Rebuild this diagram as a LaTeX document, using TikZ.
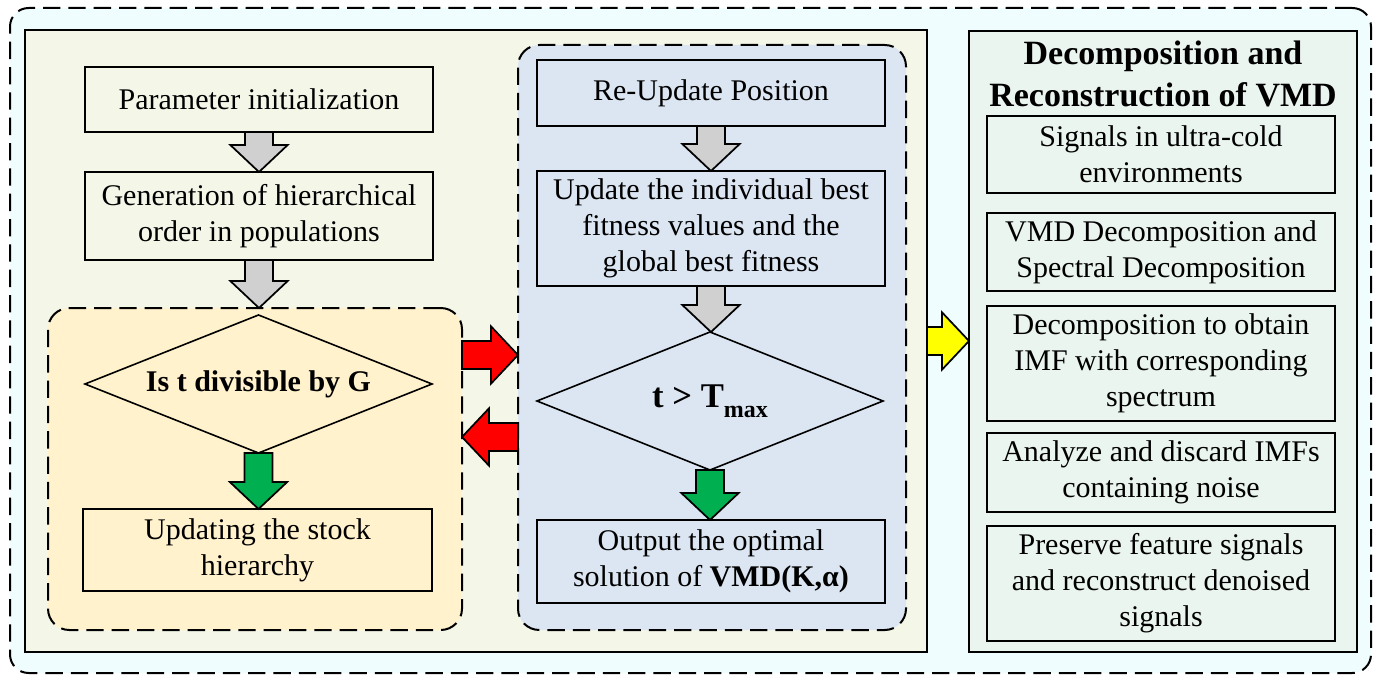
\documentclass[tikz,border=0pt]{standalone}
\usepackage{fontspec}
\setmainfont{Liberation Serif}
\usetikzlibrary{shapes.geometric,calc}
\definecolor{outerfill}{HTML}{EFFDFE}
\definecolor{leftfill}{HTML}{F4F7E8}
\definecolor{rightfill}{HTML}{EBF5EF}
\definecolor{orangefill}{HTML}{FFF2CC}
\definecolor{bluefill}{HTML}{DCE6F2}
\definecolor{arrgray}{HTML}{D0D0D0}
\definecolor{arrgreen}{HTML}{00B050}
\definecolor{arrred}{HTML}{FF0000}
\definecolor{arryellow}{HTML}{FFFF00}
\newcommand\blkS{10.5pt}
\newcommand\blkH{21.5pt}
\newcommand\blkL{20.25pt}
\newcommand\vblk[3]{%
  \draw[blk,fill=#3] let \p1=#1, \p2=#2 in
  (\x1-\blkS,\y1) -- (\x1+\blkS,\y1) -- (\x1+\blkS,\y2+\blkL) -- (\x1+\blkH,\y2+\blkL)
  -- (\x1,\y2) -- (\x1-\blkH,\y2+\blkL) -- (\x1-\blkS,\y2+\blkL) -- cycle;}
\newcommand\hblk[3]{%
  \draw[blk,fill=#3] let \p1=#1, \p2=#2, \n1={ifthenelse(\x2>\x1,1,-1)} in
  (\x1,\y1-\blkS) -- ({\x2-\n1*\blkL},{\y1-\blkS}) -- ({\x2-\n1*\blkL},{\y1-\blkH})
  -- (\x2,\y1) -- ({\x2-\n1*\blkL},{\y1+\blkH}) -- ({\x2-\n1*\blkL},{\y1+\blkS})
  -- (\x1,\y1+\blkS) -- cycle;}
\begin{document}
\begin{tikzpicture}[x=0.75pt,y=-0.75pt,
  wh/.style 2 args={minimum width=#1*0.75pt, minimum height=#2*0.75pt},
  box/.style={draw, line width=1.5pt, inner sep=0pt, outer sep=0pt, align=center,
    font=\fontsize{22.5pt}{27pt}\selectfont},
  dec/.style={draw, diamond, line width=1.2pt, inner sep=0pt, outer sep=0pt, aspect=2.5,
    font=\fontsize{22.5pt}{27pt}\selectfont\bfseries},
  panel/.style={draw, line width=2pt, inner sep=0pt, outer sep=0pt},
  grp/.style={draw, dashed, dash pattern=on 13pt off 6pt, line width=1.5pt,
    rounded corners=16pt, inner sep=0pt, outer sep=0pt},
  blk/.style={draw, line width=1.3pt, line join=miter}]
\useasboundingbox (0,0) rectangle (1377,684);
% outer frame
\node[grp, fill=outerfill, rounded corners=14pt, wh={1361}{665}] (outer) at (690.5,340.5) {};
% panels
\node[panel, fill=leftfill, wh={902}{622}] (leftp) at (476,341) {};
\node[panel, fill=rightfill, wh={388}{621}] (rightp) at (1163,341.5) {};
% groups
\node[grp, fill=orangefill, wh={414}{322}] (grpA) at (255,469) {};
\node[grp, fill=bluefill, wh={388}{585}] (grpB) at (712,337.5) {};
% left column
\node[box, fill=leftfill, wh={348}{65}] (p1) at (259,99.5) {Parameter initialization};
\node[box, fill=leftfill, wh={348}{88}] (p2) at (259,216) {Generation of hierarchical\\order in populations};
\node[dec, fill=orangefill, wh={347}{138}] (d1) at (258.5,384) {Is t divisible by G};
\node[box, fill=orangefill, wh={349}{82}] (u1) at (257.5,550) {Updating the stock\\hierarchy};
% middle column
\node[box, fill=bluefill, wh={348}{66}] (r1) at (711,93) {Re-Update Position};
\node[box, fill=bluefill, wh={348}{115}] (r2) at (711,228.5) {Update the individual best\\fitness values and the\\global best fitness};
\node[dec, fill=bluefill, wh={346}{138}, font=\fontsize{26pt}{30pt}\selectfont\bfseries] (d2) at (710,401) {t > T\raisebox{-0.28em}{\fontsize{18pt}{18pt}\selectfont max}};
\node[box, fill=bluefill, wh={348}{83}] (r3) at (711,561.5) {Output the optimal\\solution of \textbf{VMD(K,α)}};
% right column
\node[align=center, inner sep=0pt, font=\fontsize{25.5pt}{32pt}\selectfont\bfseries] (title) at (1163,74) {Decomposition and\\Reconstruction of VMD};
\node[box, fill=rightfill, wh={348}{77}] (s1) at (1161,154.5) {Signals in ultra-cold\\environments};
\node[box, fill=rightfill, wh={348}{78}] (s2) at (1161,252) {VMD Decomposition and\\Spectral Decomposition};
\node[box, fill=rightfill, wh={348}{115}] (s3) at (1161,363.5) {Decomposition to obtain\\IMF with corresponding\\spectrum};
\node[box, fill=rightfill, wh={348}{79}] (s4) at (1161,472.5) {Analyze and discard IMFs\\containing noise};
\node[box, fill=rightfill, wh={348}{115}] (s5) at (1161,583.5) {Preserve feature signals\\and reconstruct denoised\\signals};
% helper levels for horizontal arrows
\coordinate (lvA) at (0,355);
\coordinate (lvB) at (0,437);
\coordinate (lvC) at (0,341);
% block arrows
\vblk{(p1.south)}{(p2.north)}{arrgray}
\vblk{(p2.south)}{(p2.south |- grpA.north)}{arrgray}
\vblk{(d1.south)}{(u1.north)}{arrgreen}
\vblk{(r1.south)}{(r2.north)}{arrgray}
\vblk{(r2.south)}{(d2.north)}{arrgray}
\vblk{(d2.south)}{(r3.north)}{arrgreen}
\hblk{(grpA.east |- lvA)}{(grpB.west |- lvA)}{arrred}
\hblk{(grpB.west |- lvB)}{(grpA.east |- lvB)}{arrred}
\hblk{(leftp.east |- lvC)}{(rightp.west |- lvC)}{arryellow}
\end{tikzpicture}
\end{document}
